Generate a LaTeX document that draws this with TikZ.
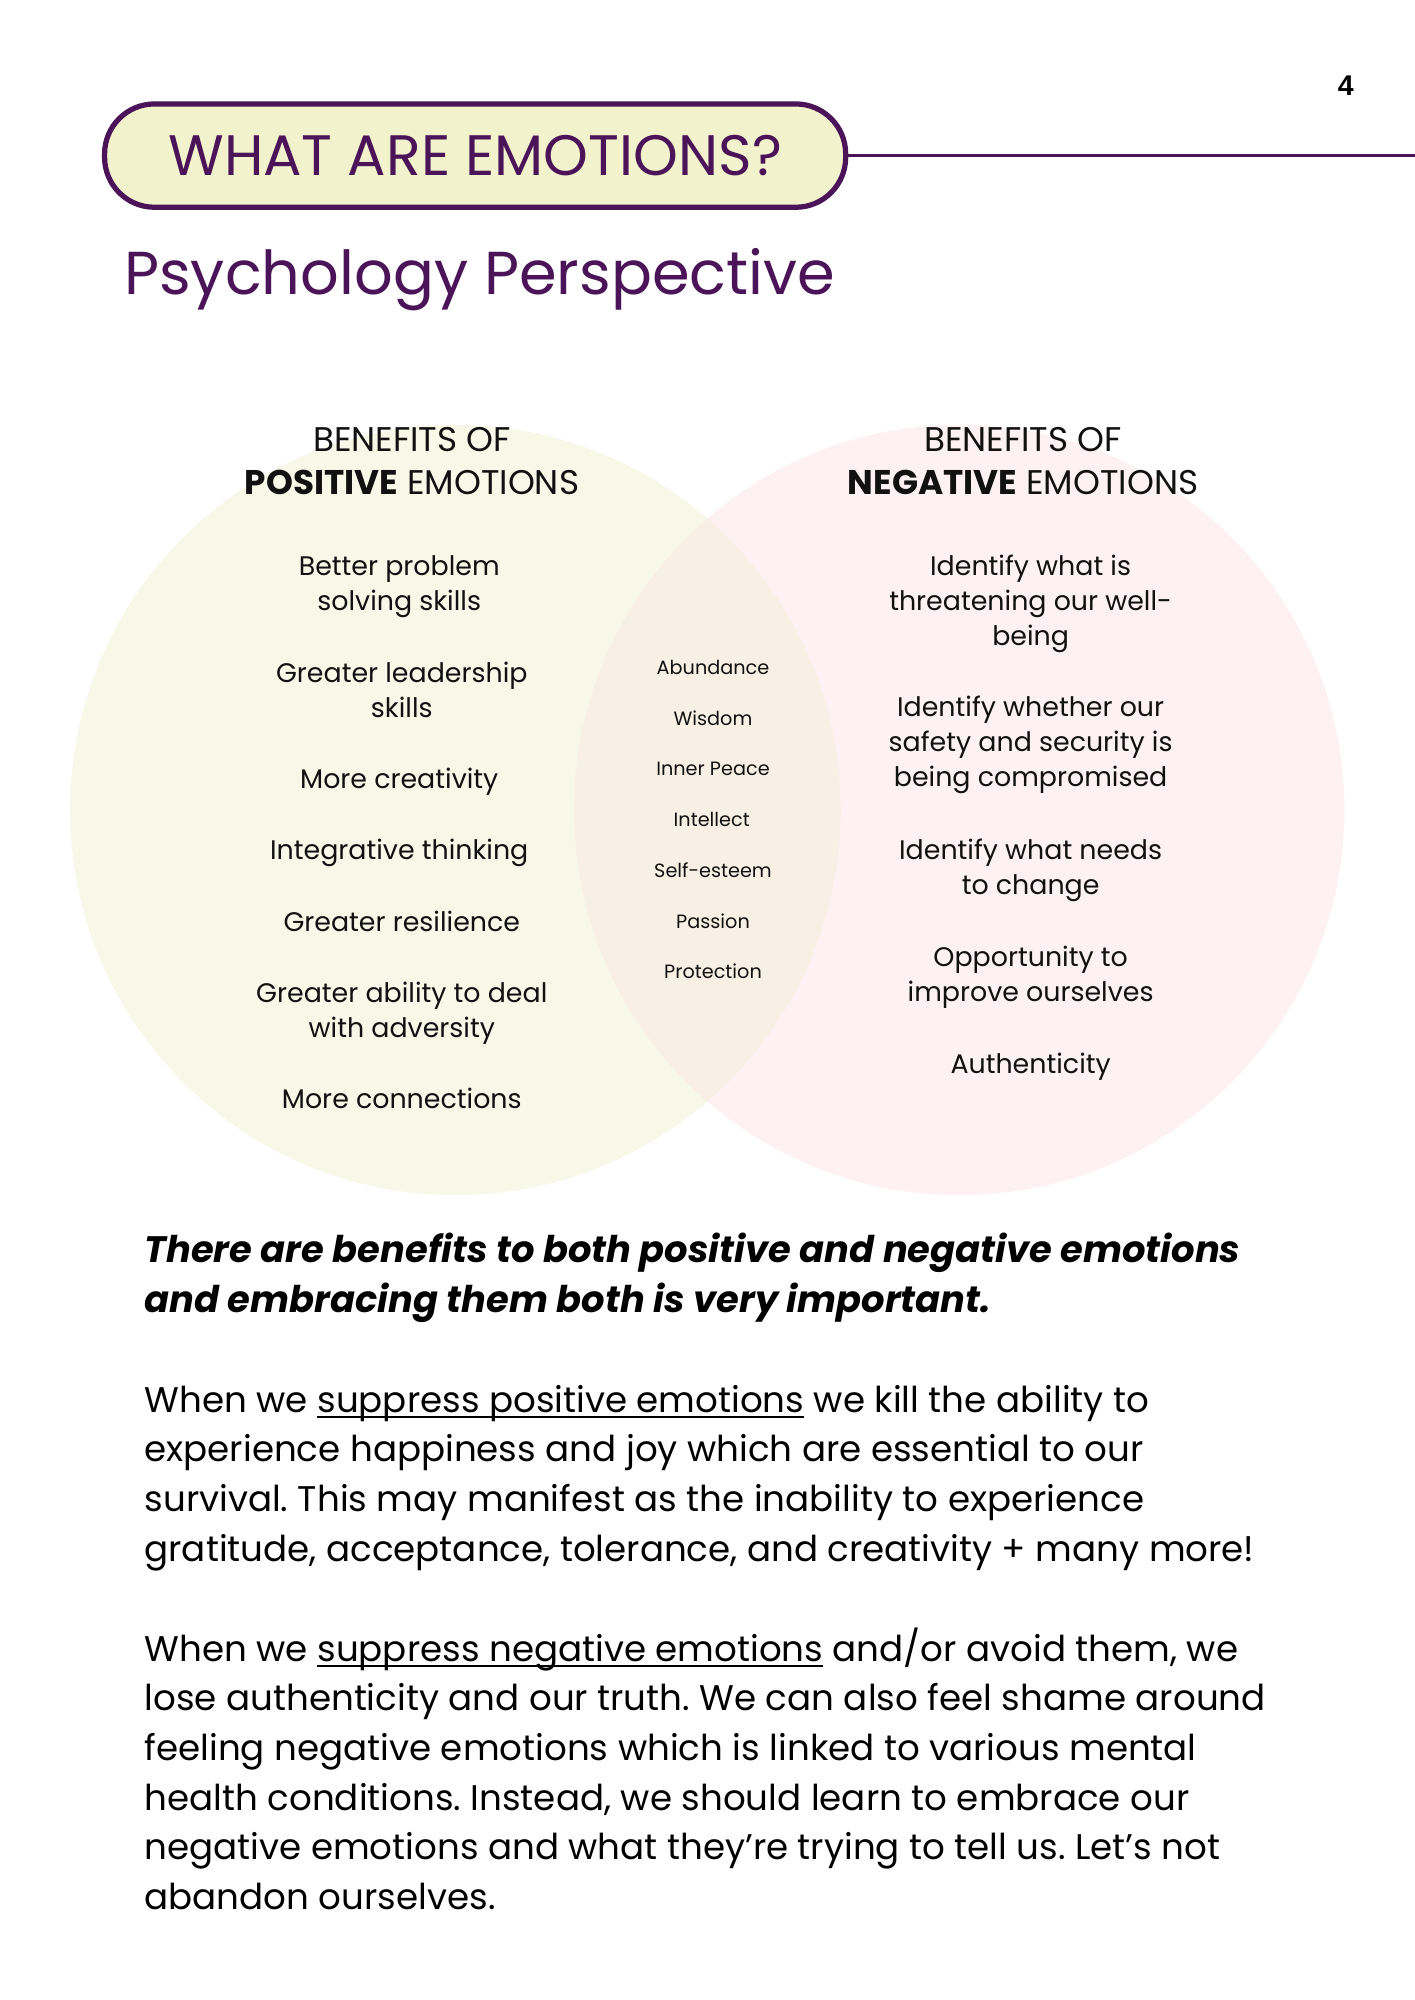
\documentclass[tikz,border=0pt]{standalone}
\usepackage{fontspec}
\setmainfont{Poppins}
\newfontfamily\numfont{Liberation Sans}
\newcommand\myul[1]{\setbox0\hbox{#1}\rlap{\rule[-2.4pt]{\wd0}{0.9pt}}\box0\relax}
\frenchspacing
\definecolor{purp}{HTML}{4B1459}
\definecolor{pillfill}{HTML}{F2F2CC}
\definecolor{leftc}{HTML}{F7F8E8}
\definecolor{rightc}{HTML}{FDF1F4}
\definecolor{midc}{HTML}{F8F0E4}
\definecolor{ink}{HTML}{111111}
\tikzset{
  pill/.style={draw=purp, line width=2.2pt, fill=pillfill, rounded corners=21pt,
    minimum width=581*0.5368pt, minimum height=81*0.5368pt, inner sep=0pt,
    text=purp, font=\fontsize{24}{28}\selectfont},
  hdr/.style={font=\fontsize{14.4}{18.3}\selectfont, align=center, anchor=base, inner sep=0pt, text=ink},
  item/.style={font=\fontsize{11.3}{14.8}\selectfont, align=center, anchor=base, inner sep=0pt, text=ink},
  mid/.style={font=\fontsize{8.1}{10}\selectfont, anchor=base, inner sep=0pt, text=ink},
  para/.style={font=\fontsize{15}{20.9}\selectfont, align=left, anchor=base west, inner sep=0pt, text=black},
}
\begin{document}
\frenchspacing
\begin{tikzpicture}[x=0.5368pt,y=-0.5368pt]
\useasboundingbox (0,0) rectangle (1109,1568);
\fill[white] (0,0) rectangle (1109,1568);

% header
\node[pill] (title) at (372.5,122) {WHAT ARE EMOTIONS?};
\coordinate (edge) at (1109,122);
\draw[purp, line width=1.2pt] (title.east) -- (edge);
\node[font=\numfont\bfseries\fontsize{12}{14}\selectfont, anchor=base, inner sep=0pt] (pagenum) at (1055,75) {4};
\node[font=\fontsize{25.5}{30}\selectfont, text=purp, anchor=base west, inner sep=0pt] (subtitle) at (97,231) {Psychology Perspective};

% venn
\fill[leftc] (357,635) circle (302);
\fill[rightc] (752,635) circle (302);
\begin{scope}
  \clip (357,635) circle (302);
  \fill[midc] (752,635) circle (302);
\end{scope}

% (multi-line nodes: base anchor = baseline of the last line)
\node[hdr] (hpos) at (323,388) {BENEFITS OF\\\textbf{POSITIVE} EMOTIONS};
\node[hdr] (hneg) at (802,388) {BENEFITS OF\\\textbf{NEGATIVE} EMOTIONS};

\node[item] (p1) at (313,478.5) {Better problem\\solving skills};
\node[item] (p2) at (315,562.5) {Greater leadership\\skills};
\node[item] (p3) at (313,618) {More creativity};
\node[item] (p4) at (313,674) {Integrative thinking};
\node[item] (p5) at (315,730) {Greater resilience};
\node[item] (p6) at (315,813.5) {Greater ability to deal\\with adversity};
\node[item] (p7) at (315,869) {More connections};

\node[item] (n1) at (808,506) {Identify what is\\threatening our well-\\being};
\node[item] (n2) at (808,617) {Identify whether our\\safety and security is\\being compromised};
\node[item] (n3) at (808,701.5) {Identify what needs\\to change};
\node[item] (n4) at (808,785.5) {Opportunity to\\improve ourselves};
\node[item] (n5) at (808,842) {Authenticity};

\node[mid] (m1) at (559,529) {Abundance};
\node[mid] (m2) at (559,569) {Wisdom};
\node[mid] (m3) at (559,608) {Inner Peace};
\node[mid] (m4) at (558,648) {Intellect};
\node[mid] (m5) at (559,688) {Self-esteem};
\node[mid] (m6) at (559,728) {Passion};
\node[mid] (m7) at (559,767) {Protection};

% body text
\node[para, font=\fontsize{15.5}{20.9}\selectfont\bfseries\itshape] (lead) at (113,1029)
  {There are benefits to both positive and negative emotions\\and embracing them both is very important.};
\node[para] (par1) at (113,1224)
  {When we \myul{suppress positive emotions} we kill the ability to\\experience happiness and joy which are essential to our\\survival. This may manifest as the inability to experience\\gratitude, acceptance, tolerance, and creativity + many more!};
\node[para] (par2) at (113,1497)
  {When we \myul{suppress negative emotions} and/or avoid them, we\\lose authenticity and our truth. We can also feel shame around\\feeling negative emotions which is linked to various mental\\health conditions. Instead, we should learn to embrace our\\negative emotions and what they’re trying to tell us. Let’s not\\abandon ourselves.};
\end{tikzpicture}
\end{document}
